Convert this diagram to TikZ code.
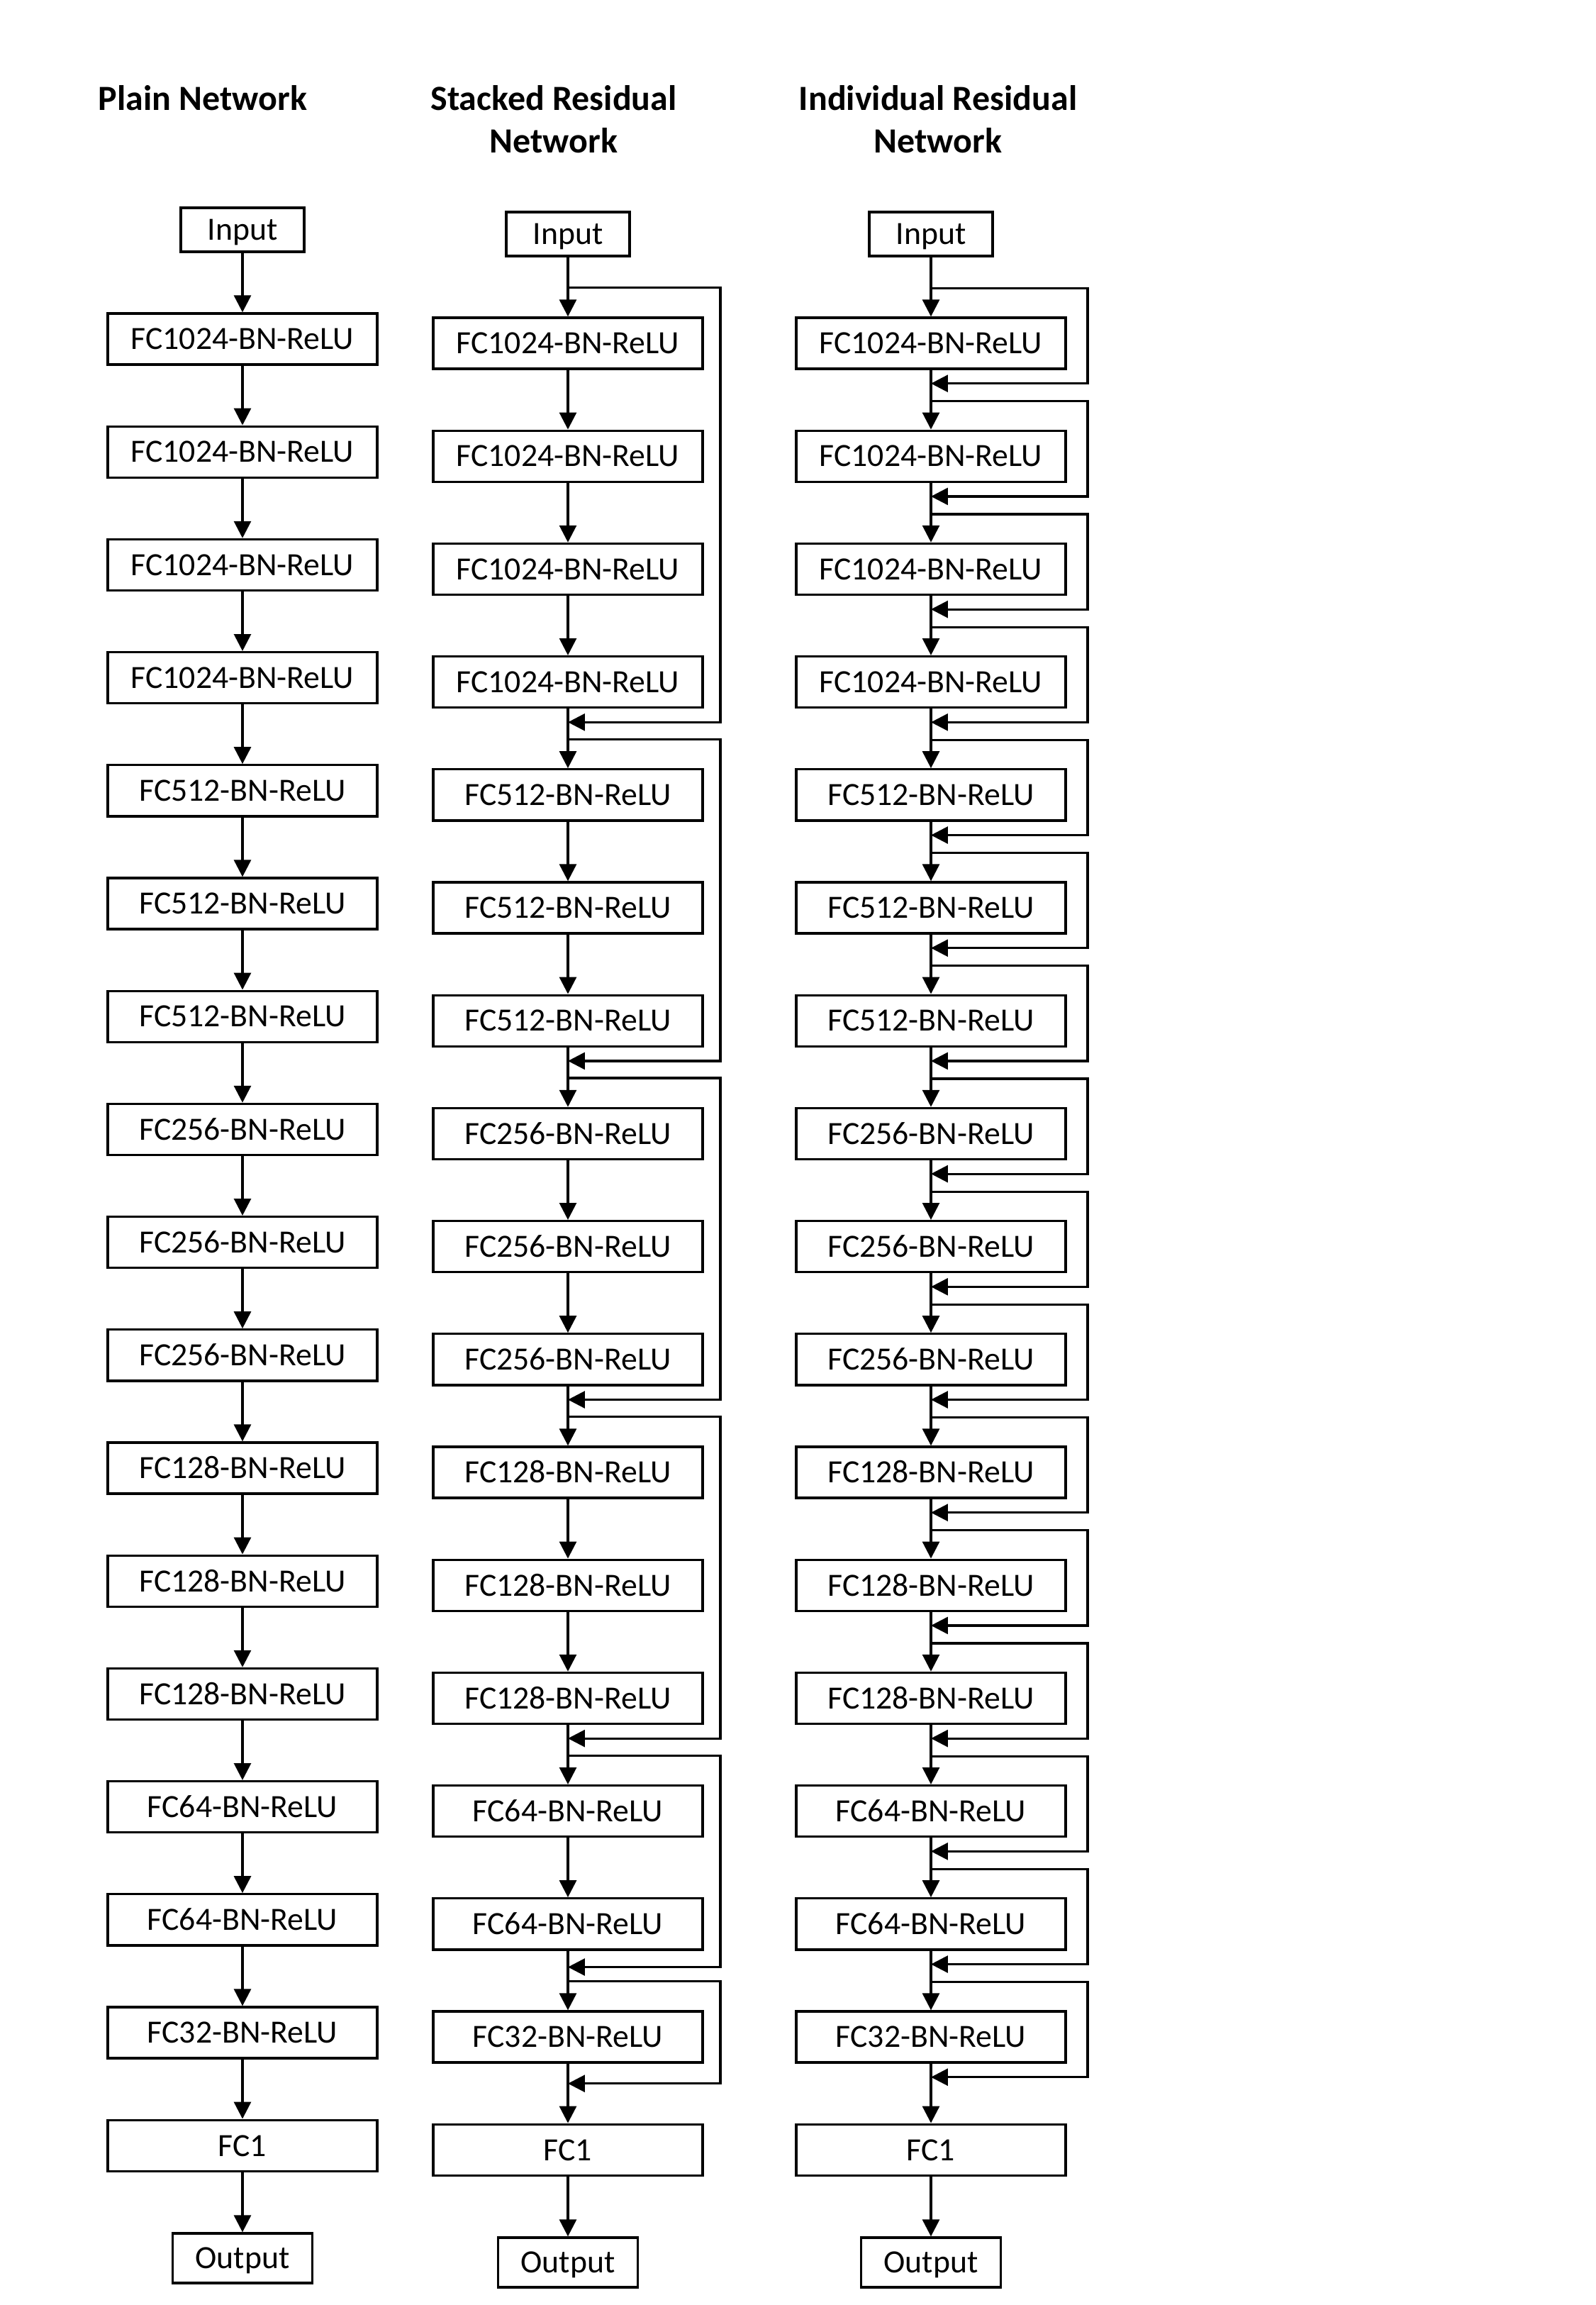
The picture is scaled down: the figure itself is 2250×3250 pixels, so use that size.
\documentclass[tikz,border=0pt]{standalone}
\usepackage{fontspec}
\setmainfont{Carlito}
\usetikzlibrary{arrows.meta,calc}
\begin{document}
\begin{tikzpicture}[x=0.01cm,y=-0.01cm,
  boxbase/.style={draw,line width=0.95pt,inner sep=0pt,text height=8.4pt,text depth=0pt,font=\fontsize{13pt}{15pt}\selectfont},
  fcbox/.style={boxbase,minimum width=3.80cm,minimum height=0.72cm},
  iobox/.style={boxbase,minimum width=1.74cm,minimum height=0.62cm},
  outbox/.style={boxbase,minimum width=1.97cm,minimum height=0.70cm},
  ttl/.style={font=\fontsize{14.2pt}{17.1pt}\selectfont\bfseries,align=center,anchor=north,inner sep=0pt},
  arr/.style={line width=0.9pt,-{Triangle[length=6.8pt,width=6.8pt]}}
]
\useasboundingbox (0,0) rectangle (2250,3250);
% titles
\node[ttl] (t1) at (286,120) {Plain Network};
\node[ttl] (t2) at (781,120) {Stacked Residual\\Network};
\node[ttl] (t3) at (1323,120) {Individual Residual\\Network};
% columns
\foreach \col/\cx/\dy in {p/342/-6, s/801/0, i/1313/0} {
  \node[iobox] (\col0) at (\cx,{330+\dy}) {Input};
  \foreach \k/\lab in {1/FC1024-BN-ReLU,2/FC1024-BN-ReLU,3/FC1024-BN-ReLU,4/FC1024-BN-ReLU,
     5/FC512-BN-ReLU,6/FC512-BN-ReLU,7/FC512-BN-ReLU,
     8/FC256-BN-ReLU,9/FC256-BN-ReLU,10/FC256-BN-ReLU,
     11/FC128-BN-ReLU,12/FC128-BN-ReLU,13/FC128-BN-ReLU,
     14/FC64-BN-ReLU,15/FC64-BN-ReLU,16/FC32-BN-ReLU,17/FC1} {
    \node[fcbox] (\col\k) at (\cx,{484+159.2*(\k-1)+\dy}) {\lab};
  }
  \node[outbox] (\col18) at (\cx,{3190+\dy}) {Output};
  \foreach \k [evaluate=\k as \n using int(\k+1)] in {0,...,17} {
    \draw[arr] (\col\k) -- (\col\n);
  }
}
% stacked residual skips
\coordinate (sR) at (1016,0);
\foreach \a/\b/\m in {1/4/0.19,5/7/0.19,8/10/0.19,11/13/0.19,14/15/0.23,16/16/0.28} {
  \pgfmathtruncatemacro\pa{\a-1}
  \coordinate (sb\a) at ([yshift=-0.43cm]s\pa.south);
  \coordinate (sm\b) at ([yshift=-\m cm]s\b.south);
  \draw[arr] (sb\a) -- (sb\a -| sR) |- (sm\b);
}
% individual residual skips
\coordinate (iR) at (1534,0);
\foreach \k in {1,...,16} {
  \pgfmathtruncatemacro\pk{\k-1}
  \coordinate (ib\k) at ([yshift=-0.44cm]i\pk.south);
  \coordinate (im\k) at ([yshift=-0.19cm]i\k.south);
  \draw[arr] (ib\k) -- (ib\k -| iR) |- (im\k);
}
\end{tikzpicture}
\end{document}
